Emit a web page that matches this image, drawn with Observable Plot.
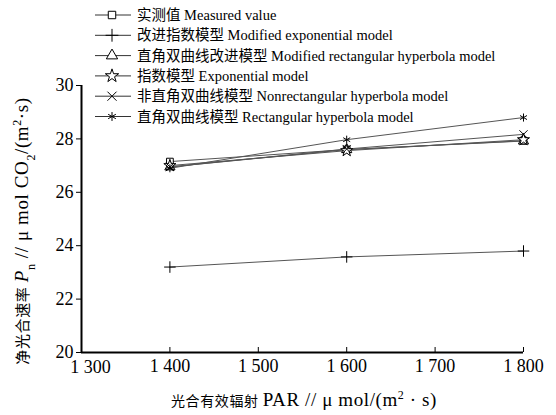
<!DOCTYPE html>
<html><head><meta charset="utf-8">
<script src="https://cdn.jsdelivr.net/npm/d3@7"></script>
<script src="https://cdn.jsdelivr.net/npm/@observablehq/plot@0.6"></script>
<style>body{margin:0;background:#fff} #chart{width:556px;height:415px}</style>
</head><body><div id="chart"></div>
<script>
const par = [1400, 1600, 1800];
const seriesNames = [
  "实测值 Measured value",
  "改进指数模型 Modified exponential model",
  "直角双曲线改进模型 Modified rectangular hyperbola model",
  "指数模型 Exponential model",
  "非直角双曲线模型 Nonrectangular hyperbola model",
  "直角双曲线模型 Rectangular hyperbola model"
];
const seriesSymbols = ["square", "plus", "triangle", "star", "times", "asterisk"];
const measured = [27.15, 27.6, 27.93];
const modExp = [23.2, 23.58, 23.8];
const modRect = [26.95, 27.6, 27.92];
const expo = [27.0, 27.56, 27.97];
const nonRect = [26.95, 27.62, 28.17];
const rect = [26.9, 27.97, 28.8];
const allSeries = [measured, modExp, modRect, expo, nonRect, rect];
const xTicks = [1300, 1400, 1500, 1600, 1700, 1800];
const xTickLabels = ["1 300", "1 400", "1 500", "1 600", "1 700", "1 800"];
const yTicks = [20, 22, 24, 26, 28, 30];

const rows = [];
allSeries.forEach((vals, i) => vals.forEach((v, j) => rows.push({x: par[j], y: v, s: seriesNames[i]})));

const serif = "'Liberation Serif','Times New Roman','Noto Sans CJK SC',serif";
const fmtX = d => xTickLabels[xTicks.indexOf(d)];

const svg = Plot.plot({
  width: 556, height: 415,
  marginLeft: 81, marginRight: 33, marginTop: 85, marginBottom: 63,
  style: {fontFamily: serif, background: "white", color: "black"},
  x: {domain: [1300, 1800], label: null},
  y: {domain: [20, 30], label: null},
  symbol: {domain: seriesNames, range: seriesSymbols},
  marks: [
    Plot.axisX(xTicks.slice(1), {tickSize: -5, tickPadding: 12, tickFormat: fmtX, fontSize: 18, label: null}),
    Plot.axisX(xTicks.slice(0, 1), {tickSize: 0, tickPadding: 8, tickFormat: fmtX, fontSize: 18, dx: 9, label: null}),
    Plot.axisY(yTicks, {tickSize: 5, tickPadding: 3, fontSize: 18, label: null}),
    Plot.ruleX([1300], {strokeWidth: 2}),
    Plot.ruleY([20], {strokeWidth: 2}),
    Plot.line(rows, {x: "x", y: "y", z: "s", stroke: "#555", strokeWidth: 1}),
    Plot.dot(rows, {x: "x", y: "y", symbol: "s", r: 3.8, stroke: "black", fill: "white", strokeWidth: 1})
  ]
});
document.getElementById("chart").appendChild(svg);

const s = d3.select(svg);
// y axis title
const yt = s.append("text").attr("transform", "translate(28,231) rotate(-90)")
  .attr("text-anchor", "middle").attr("font-size", 19).attr("letter-spacing", 0.6)
  .attr("font-family", serif).attr("fill", "black");
yt.append("tspan").attr("font-size", 15).text("净光合速率 ");
yt.append("tspan").attr("font-style", "italic").text("P");
yt.append("tspan").attr("font-size", 12).attr("baseline-shift", "sub").text("n");
yt.append("tspan").text(" // μ mol CO");
yt.append("tspan").attr("font-size", 12).attr("baseline-shift", "sub").text("2");
yt.append("tspan").text("/(m");
yt.append("tspan").attr("font-size", 12).attr("baseline-shift", "super").text("2");
yt.append("tspan").text("·s)");

// x axis title
const xt = s.append("text").attr("x", 304).attr("y", 406)
  .attr("text-anchor", "middle").attr("font-size", 19).attr("letter-spacing", 0.6)
  .attr("font-family", serif).attr("fill", "black");
xt.append("tspan").attr("font-size", 14).text("光合有效辐射 ");
xt.append("tspan").text("PAR // μ mol/(m");
xt.append("tspan").attr("font-size", 12).attr("baseline-shift", "super").text("2");
xt.append("tspan").text(" · s)");

// legend
const symMap = {square: d3.symbolSquare, plus: d3.symbolPlus, triangle: d3.symbolTriangle, star: d3.symbolStar, times: d3.symbolTimes, asterisk: d3.symbolAsterisk};
const lg = s.append("g").attr("font-family", serif).attr("font-size", 14.5).attr("text-anchor", "start");
seriesNames.forEach((name, i) => {
  const y = 15 + i * 20.3;
  const g = lg.append("g").attr("transform", `translate(0,${y})`);
  g.append("line").attr("x1", 95).attr("x2", 131).attr("y1", 0).attr("y2", 0).attr("stroke", "#333");
  g.append("path").attr("transform", "translate(112,0)")
    .attr("d", d3.symbol(symMap[seriesSymbols[i]], Math.PI * 4.2 * 4.2)())
    .attr("fill", "white").attr("stroke", "black");
  g.append("text").attr("x", 137).attr("y", 0).attr("dy", "0.35em").attr("fill", "black").text(name);
});
</script></body></html>
